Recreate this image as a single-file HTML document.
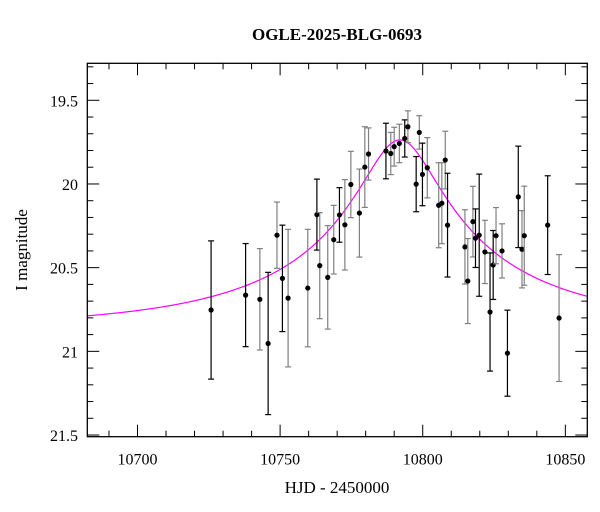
<!DOCTYPE html>
<html><head><meta charset="utf-8"><style>
html,body{margin:0;padding:0;background:#fff}
svg{display:block;font-family:"Liberation Serif",serif}
</style></head><body>
<svg id="chart" width="600" height="512" viewBox="0 0 600 512">
<text x="337" y="40" text-anchor="middle" font-size="17" font-weight="bold">OGLE-2025-BLG-0693</text>
<g id="ticks"></g>
<g id="model"></g>
<g id="pts"></g>
<rect x="87.3" y="63.3" width="500" height="373.4" fill="none" stroke="#000" stroke-width="1.3"/>
<text x="337" y="493" text-anchor="middle" font-size="17">HJD - 2450000</text>
<text transform="translate(27,250) rotate(-90)" text-anchor="middle" font-size="17">I magnitude</text>
</svg>
<script>
const hjd=[10725.8,10737.9,10742.9,10745.8,10748.9,10750.8,10752.8,10759.7,10762.9,10763.9,10766.7,10768.8,10770.8,10772.7,10774.8,10777.8,10779.7,10781.0,10787.1,10788.8,10790.0,10791.8,10793.7,10794.8,10797.7,10798.8,10799.9,10801.6,10805.6,10806.7,10807.9,10808.7,10814.8,10815.8,10817.6,10818.5,10819.8,10821.8,10823.6,10824.7,10825.7,10827.8,10829.7,10833.5,10834.8,10835.6,10843.8,10847.8];
const mag=[20.753,20.664,20.689,20.953,20.306,20.564,20.682,20.622,20.183,20.488,20.558,20.333,20.185,20.244,20.003,20.174,19.899,19.821,19.803,19.818,19.777,19.758,19.728,19.658,20.001,19.692,19.943,19.903,20.127,20.115,19.857,20.246,20.376,20.580,20.225,20.324,20.306,20.406,20.765,20.484,20.309,20.400,21.011,20.077,20.390,20.309,20.246,20.801];
const err=[0.413,0.308,0.303,0.425,0.198,0.318,0.411,0.351,0.212,0.317,0.309,0.205,0.163,0.270,0.198,0.263,0.241,0.156,0.166,0.126,0.116,0.115,0.111,0.095,0.165,0.100,0.187,0.180,0.254,0.242,0.172,0.310,0.222,0.254,0.211,0.175,0.365,0.189,0.353,0.206,0.168,0.162,0.257,0.303,0.231,0.296,0.295,0.379];
const gray=[0,0,1,0,1,0,1,1,0,1,1,1,0,1,1,1,1,1,0,1,1,1,0,1,0,1,0,1,1,1,1,0,1,1,1,0,0,1,0,0,1,1,0,0,1,1,0,1];
const xTicks=[10700,10750,10800,10850];
const yTicks=[19.5,20,20.5,21,21.5];
const yTickLabels=["19.5","20","20.5","21","21.5"];
const modelParams=[10792,92,0.143,0.3,20.86]; // t0, tE, u0, fs, baseline
const L=87.3,R=587.3,T=63.3,B=436.7;
const x0=10682.4,x1=10857.7,y0=19.279,y1=21.51;
const X=v=>L+(v-x0)/(x1-x0)*(R-L);
const Y=v=>T+(v-y0)/(y1-y0)*(B-T);
const NS="http://www.w3.org/2000/svg";
function mk(tag,attrs,parent){const e=document.createElementNS(NS,tag);for(const k in attrs)e.setAttribute(k,attrs[k]);parent.appendChild(e);return e;}
const tg=document.getElementById('ticks');
for(let v=10690;v<=10850;v+=10){
  const major=v%50===0, len=major?12:6, px=X(v);
  const a=mk('line',{x1:px,x2:px,y1:B,y2:B-len,stroke:'#000','stroke-width':1},tg);
  
  
  const b=mk('line',{x1:px,x2:px,y1:T,y2:T+len,stroke:'#000','stroke-width':1},tg);
  
  
}
xTicks.forEach(v=>{
  const t=mk('text',{x:X(v),y:B+28,'text-anchor':'middle','font-size':16},tg);
  t.textContent=v;
  
  
});
for(let i=3;i<=25;i++){
  const v=19+i*0.1; if(v<y0||v>y1)continue;
  const major=i%5===0, len=major?12:6, py=Y(v);
  const a=mk('line',{x1:L,x2:L+len,y1:py,y2:py,stroke:'#000','stroke-width':1},tg);
  
  
  const b=mk('line',{x1:R,x2:R-len,y1:py,y2:py,stroke:'#000','stroke-width':1},tg);
  
  
}
yTicks.forEach((v,i)=>{
  const t=mk('text',{x:78,y:Y(v)+6,'text-anchor':'end','font-size':16},tg);
  t.textContent=yTickLabels[i];
  
  
});
// model
const [t0,tE,u0,fs,I0]=modelParams;
function modelMag(t){const tau=(t-t0)/tE;const u=Math.sqrt(u0*u0+tau*tau);const A=(u*u+2)/(u*Math.sqrt(u*u+4));return I0-2.5*Math.log10(fs*A+1-fs);}
let d='';
for(let t=x0;t<=x1;t+=0.5){d+=(d?'L':'M')+X(t).toFixed(2)+','+Y(modelMag(t)).toFixed(2);}
const mp=mk('path',{d:d,fill:'none',stroke:'#ff00ff','stroke-width':1.2},document.getElementById('model'));


// points
const pg=document.getElementById('pts');
hjd.forEach((t,i)=>{
  const g=mk('g',{},pg);
  
  
  const c=gray[i]?'#808080':'#000';
  const px=X(t),pyT=Y(mag[i]-err[i]),pyB=Y(mag[i]+err[i]);
  mk('line',{x1:px,x2:px,y1:pyT,y2:pyB,stroke:c,'stroke-width':1.2},g);
  mk('line',{x1:px-3,x2:px+3,y1:pyT,y2:pyT,stroke:c,'stroke-width':1.2},g);
  mk('line',{x1:px-3,x2:px+3,y1:pyB,y2:pyB,stroke:c,'stroke-width':1.2},g);
  mk('circle',{cx:px,cy:Y(mag[i]),r:2.6,fill:'#000'},g);
});
</script>
</body></html>
